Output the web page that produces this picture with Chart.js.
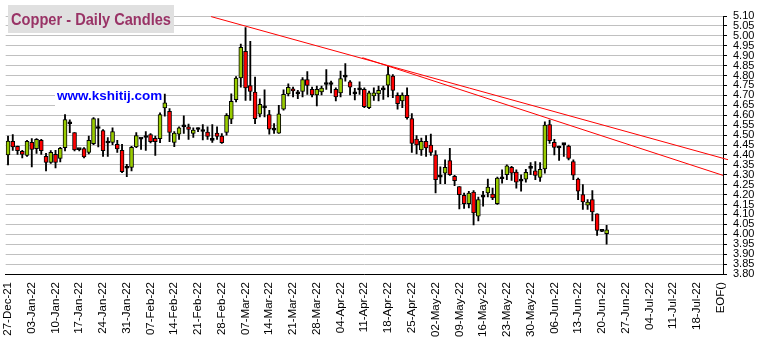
<!DOCTYPE html>
<html><head><meta charset="utf-8">
<script src="https://cdn.jsdelivr.net/npm/chart.js@4/dist/chart.umd.min.js"></script>
<style>html,body{margin:0;padding:0;background:#fff;}#wrap{width:758px;height:340px;}</style>
</head><body><div id="wrap"><canvas id="c" width="758" height="340"></canvas></div>
<script>
const weekLabels = ['27-Dec-21','03-Jan-22','10-Jan-22','17-Jan-22','24-Jan-22','31-Jan-22','07-Feb-22','14-Feb-22','21-Feb-22','28-Feb-22','07-Mar-22','14-Mar-22','21-Mar-22','28-Mar-22','04-Apr-22','11-Apr-22','18-Apr-22','25-Apr-22','02-May-22','09-May-22','16-May-22','23-May-22','30-May-22','06-Jun-22','13-Jun-22','20-Jun-22','27-Jun-22','04-Jul-22','11-Jul-22','18-Jul-22','EOF()'];
const opens = [4.40,4.468,4.443,4.418,4.397,4.463,4.432,4.473,4.393,4.362,4.403,4.382,4.437,4.557,4.513,4.427,4.432,4.412,4.457,4.533,4.523,4.46,4.463,4.453,4.423,4.333,4.337,4.44,4.48,4.488,4.502,4.483,4.482,4.637,4.62,4.463,4.505,4.542,4.542,4.508,4.528,4.518,4.515,4.473,4.51,4.495,4.513,4.58,4.678,4.788,4.922,4.75,4.717,4.605,4.637,4.603,4.525,4.51,4.63,4.708,4.733,4.708,4.72,4.78,4.73,4.702,4.718,4.755,4.755,4.73,4.713,4.792,4.768,4.708,4.728,4.73,4.638,4.697,4.708,4.728,4.752,4.797,4.70,4.672,4.70,4.583,4.48,4.425,4.468,4.45,4.40,4.288,4.308,4.372,4.292,4.24,4.197,4.155,4.213,4.092,4.187,4.208,4.203,4.155,4.28,4.30,4.338,4.313,4.268,4.278,4.332,4.32,4.287,4.33,4.553,4.463,4.435,4.452,4.445,4.367,4.278,4.20,4.147,4.175,4.103,4.015,4.003];
const highs = [4.495,4.503,4.445,4.423,4.473,4.482,4.482,4.478,4.408,4.422,4.423,4.438,4.603,4.577,4.513,4.43,4.437,4.495,4.588,4.583,4.528,4.487,4.537,4.473,4.453,4.353,4.443,4.512,4.485,4.517,4.507,4.495,4.612,4.707,4.633,4.517,4.542,4.597,4.555,4.537,4.537,4.553,4.542,4.553,4.542,4.508,4.608,4.708,4.795,4.958,5.042,4.972,4.792,4.683,4.728,4.625,4.558,4.65,4.728,4.758,4.742,4.725,4.79,4.82,4.742,4.747,4.747,4.83,4.772,4.738,4.822,4.86,4.775,4.735,4.768,4.738,4.722,4.738,4.747,4.747,4.847,4.805,4.713,4.713,4.738,4.608,4.497,4.485,4.497,4.505,4.422,4.34,4.375,4.433,4.297,4.24,4.208,4.217,4.22,4.188,4.217,4.278,4.233,4.288,4.325,4.35,4.342,4.325,4.30,4.328,4.362,4.367,4.362,4.567,4.575,4.478,4.445,4.458,4.45,4.375,4.283,4.25,4.175,4.22,4.103,4.017,4.045];
const lows = [4.35,4.423,4.402,4.385,4.392,4.34,4.408,4.402,4.32,4.357,4.335,4.365,4.42,4.512,4.42,4.42,4.385,4.405,4.452,4.44,4.392,4.392,4.452,4.412,4.31,4.29,4.32,4.437,4.428,4.423,4.46,4.398,4.462,4.595,4.467,4.442,4.478,4.508,4.478,4.488,4.517,4.475,4.478,4.463,4.478,4.458,4.5,4.558,4.667,4.742,4.675,4.675,4.558,4.592,4.592,4.505,4.508,4.508,4.625,4.697,4.692,4.683,4.692,4.705,4.692,4.647,4.702,4.73,4.713,4.672,4.692,4.772,4.702,4.677,4.705,4.638,4.633,4.675,4.672,4.68,4.692,4.688,4.63,4.638,4.58,4.413,4.405,4.397,4.392,4.397,4.208,4.255,4.255,4.297,4.245,4.128,4.13,4.133,4.047,4.067,4.142,4.188,4.175,4.15,4.258,4.275,4.272,4.233,4.217,4.263,4.30,4.275,4.267,4.308,4.458,4.40,4.372,4.392,4.375,4.275,4.175,4.125,4.125,4.067,3.995,4.013,3.95];
const closes = [4.47,4.44,4.422,4.402,4.468,4.428,4.478,4.422,4.362,4.413,4.362,4.433,4.578,4.557,4.425,4.427,4.39,4.473,4.583,4.533,4.422,4.46,4.518,4.43,4.315,4.333,4.438,4.497,4.48,4.488,4.467,4.467,4.603,4.662,4.513,4.51,4.537,4.542,4.528,4.525,4.528,4.518,4.493,4.473,4.493,4.462,4.6,4.67,4.787,4.942,4.738,4.72,4.583,4.655,4.637,4.53,4.525,4.607,4.705,4.74,4.722,4.708,4.78,4.75,4.702,4.73,4.737,4.755,4.755,4.692,4.785,4.792,4.742,4.708,4.728,4.643,4.713,4.713,4.725,4.728,4.805,4.725,4.658,4.702,4.588,4.458,4.45,4.468,4.435,4.413,4.275,4.288,4.338,4.30,4.27,4.20,4.155,4.208,4.108,4.175,4.187,4.238,4.183,4.283,4.28,4.345,4.308,4.263,4.268,4.312,4.332,4.297,4.328,4.55,4.472,4.438,4.435,4.452,4.383,4.298,4.217,4.163,4.163,4.113,4.02,4.015,4.022];
const trendAx = [42.75, 151.55], trendAy = [5.097, 4.376];
const trendBx = [74.6, 150.5], trendBy = [4.89, 4.297];

Chart.defaults.font.family = '"Liberation Sans", Arial, sans-serif';
const UP = '#99cc00', DOWN = '#ff0000', FLAT = '#000000';

const overlay = {
  id: 'overlay',
  beforeDatasetsDraw(chart) {
    const c = chart.ctx; c.save();
    c.fillStyle = '#ffffff'; c.fillRect(55, 87, 110, 23);
    c.fillStyle = '#0000ff'; c.font = 'bold 13.5px "Liberation Sans", Arial, sans-serif';
    c.textBaseline = 'alphabetic'; c.fillText('www.kshitij.com', 57, 100);
    c.restore();
  },
  afterDraw(chart) {
    const c = chart.ctx; c.save();
    c.fillStyle = '#e0e0e0'; c.fillRect(8, 5, 166, 28);
    c.fillStyle = '#993366'; c.font = 'bold 16px "Liberation Sans", Arial, sans-serif';
    c.textBaseline = 'alphabetic'; c.fillText('Copper - Daily Candles', 11, 24.5, 160);
    c.restore();
  }
};

new Chart(document.getElementById('c'), {
  type: 'bar',
  data: { datasets: [
    { type: 'line', data: trendAx.map((x, i) => ({ x, y: trendAy[i] })), borderColor: '#ff0000', borderWidth: 1, pointRadius: 0, clip: false, order: 0 },
    { type: 'line', data: trendBx.map((x, i) => ({ x, y: trendBy[i] })), borderColor: '#ff0000', borderWidth: 1, pointRadius: 0, clip: false, order: 0 },
    { data: opens.map((o, i) => ({ x: i, y: [o, closes[i]] })),
      backgroundColor: ctx => { const i = ctx.dataIndex; return closes[i] > opens[i] ? UP : (closes[i] < opens[i] ? DOWN : FLAT); },
      borderColor: '#000', borderWidth: 1, borderSkipped: false, barThickness: 4, minBarLength: 2, grouped: false, order: 1 },
    { data: lows.map((l, i) => ({ x: i, y: [l, highs[i]] })), backgroundColor: '#000', borderWidth: 0, barThickness: 1.2, grouped: false, order: 2 }
  ]},
  options: {
    responsive: false, animation: false,
    layout: { padding: { left: 5, top: 16, right: 0, bottom: 0 } },
    plugins: { legend: { display: false }, tooltip: { enabled: false } },
    scales: {
      x: { type: 'linear', min: -0.5, max: 150.5, offset: false,
        grid: { display: false, drawTicks: false, offset: false },
        border: { display: true, color: '#000', width: 1 },
        afterBuildTicks: s => { s.ticks = weekLabels.map((l, i) => ({ value: i * 5 })); },
        ticks: { autoSkip: false, maxRotation: 90, minRotation: 90, padding: 8, color: '#000', font: { size: 11.5 },
          callback: v => weekLabels[Math.round(v / 5)] },
        afterFit: s => { s.height = 66; } },
      y: { position: 'right', min: 3.8, max: 5.1,
        grid: { color: '#c0c0c0', tickColor: '#000', tickLength: 4, lineWidth: 1 },
        border: { color: '#000', width: 1 },
        ticks: { stepSize: 0.05, autoSkip: false, padding: 6, color: '#000', font: { size: 11 }, callback: v => v.toFixed(2) },
        afterFit: s => { s.width = 35; } }
    }
  },
  plugins: [overlay]
});
</script></body></html>
